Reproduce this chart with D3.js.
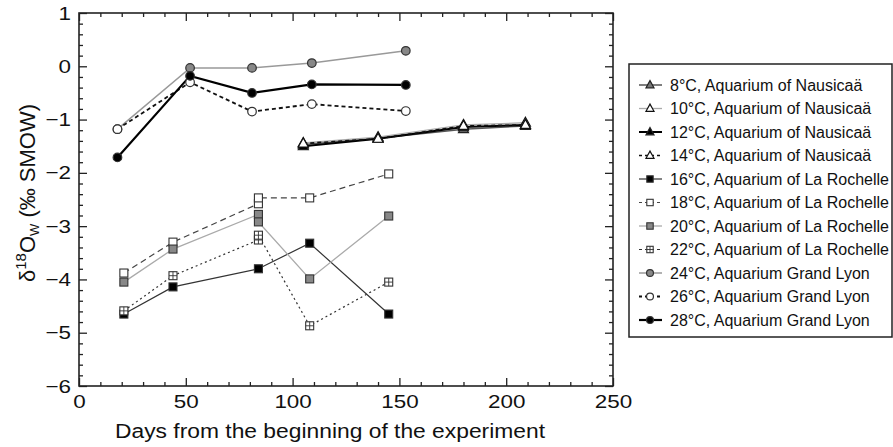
<!DOCTYPE html>
<html>
<head>
<meta charset="utf-8">
<script src="https://d3js.org/d3.v7.min.js"></script>
<style>
body { margin: 0; background: #fff; }
svg { display: block; font-family: "Liberation Sans", Arial, Helvetica, sans-serif; }
</style>
</head>
<body>
<svg width="893" height="447"></svg>
<script>
// ---- data ----
var labels = [
  "8\u00b0C, Aquarium of Nausica\u00e4",
  "10\u00b0C, Aquarium of Nausica\u00e4",
  "12\u00b0C, Aquarium of Nausica\u00e4",
  "14\u00b0C, Aquarium of Nausica\u00e4",
  "16\u00b0C, Aquarium of La Rochelle",
  "18\u00b0C, Aquarium of La Rochelle",
  "20\u00b0C, Aquarium of La Rochelle",
  "22\u00b0C, Aquarium of La Rochelle",
  "24\u00b0C, Aquarium Grand Lyon",
  "26\u00b0C, Aquarium Grand Lyon",
  "28\u00b0C, Aquarium Grand Lyon"
];

var daysNausicaa = [105, 140, 180, 209];
var c8  = [-1.47, -1.35, -1.18, -1.12];
var c10 = [-1.44, -1.33, -1.10, -1.06];
var c12 = [-1.50, -1.36, -1.14, -1.10];
var c14 = [-1.45, -1.36, -1.12, -1.10];

// two samples on day 84 for most La Rochelle tanks
var daysRochelle = [21, 44, 84, 84, 108, 145];
var c16 = [-4.65, -4.14, -3.80, null, -3.32, -4.65];
var c18 = [-3.88, -3.30, -2.58, -2.47, -2.47, -2.02];
var c20 = [-4.05, -3.43, -2.78, -2.92, -3.99, -2.81];
var c22 = [-4.59, -3.93, -3.26, -3.17, -4.87, -4.05];

var daysLyon = [18, 52, 81, 109, 153];
var c24 = [-1.18, -0.03, -0.03, 0.06, 0.29];
var c26 = [-1.18, -0.30, -0.85, -0.71, -0.84];
var c28 = [-1.71, -0.18, -0.50, -0.34, -0.35];

var xTicks = [0, 50, 100, 150, 200, 250];
var yTicks = [-6, -5, -4, -3, -2, -1, 0, 1];

var seriesX = [daysNausicaa, daysNausicaa, daysNausicaa, daysNausicaa,
  daysRochelle, daysRochelle, daysRochelle, daysRochelle,
  daysLyon, daysLyon, daysLyon];
var seriesY = [c8, c10, c12, c14, c16, c18, c20, c22, c24, c26, c28];

// styles: marker shape, marker fill, line colour, width, dash
var styles = [
  {shape: "tri", fill: "#777", stroke: "#555", w: 1.5, dash: null},
  {shape: "tri", fill: "#fff", stroke: "#aaa", w: 1.3, dash: null},
  {shape: "tri", fill: "#000", stroke: "#000", w: 2, dash: null},
  {shape: "tri", fill: "#fff", stroke: "#111", w: 1.6, dash: "4,3"},
  {shape: "sq", fill: "#000", stroke: "#333", w: 1.2, dash: null},
  {shape: "sq", fill: "#fff", stroke: "#444", w: 1.2, dash: "6,4"},
  {shape: "sq", fill: "#888", stroke: "#aaa", w: 1.3, dash: null},
  {shape: "grid", fill: "#fff", stroke: "#333", w: 1.2, dash: "2,3"},
  {shape: "circ", fill: "#888", stroke: "#999", w: 1.5, dash: null},
  {shape: "circ", fill: "#fff", stroke: "#111", w: 1.8, dash: "4,3"},
  {shape: "circ", fill: "#000", stroke: "#000", w: 2.2, dash: null}
];

var svg = d3.select("svg");

var x = d3.scaleLinear().domain([0, 250]).range([79, 613]);
var y = d3.scaleLinear().domain([-6, 1]).range([386, 13]);

var minorX = d3.range(0, 251, 10).filter(function(d) { return d % 50 !== 0; });
var minorY = d3.range(-60, 11, 2).map(function(d) { return d / 10; })
  .filter(function(d) { return Math.abs(d - Math.round(d)) > 1e-6; });

function axisStyle(g) {
  g.select(".domain").remove();
  g.selectAll("line").attr("stroke", "#222").attr("stroke-width", 1.3);
  g.selectAll("text").attr("font-size", "19px").attr("fill", "#111")
    .style("font-family", "\"Liberation Sans\", Arial, sans-serif")
    .each(function() {
      // the reference type is a bit wider than Liberation Sans
      var w = this.getComputedTextLength();
      d3.select(this).attr("textLength", w * 1.18).attr("lengthAdjust", "spacingAndGlyphs");
    });
}

// bottom / top
svg.append("g").attr("transform", "translate(0,386)")
  .call(d3.axisBottom(x).tickValues(xTicks).tickSizeInner(-8).tickSizeOuter(0).tickPadding(9))
  .call(axisStyle);
svg.append("g").attr("transform", "translate(0,386)")
  .call(d3.axisBottom(x).tickValues(minorX).tickSizeInner(-4).tickSizeOuter(0).tickFormat(""))
  .call(axisStyle);
svg.append("g").attr("transform", "translate(0,13)")
  .call(d3.axisTop(x).tickValues(xTicks).tickSizeInner(-8).tickSizeOuter(0).tickFormat(""))
  .call(axisStyle);
svg.append("g").attr("transform", "translate(0,13)")
  .call(d3.axisTop(x).tickValues(minorX).tickSizeInner(-4).tickSizeOuter(0).tickFormat(""))
  .call(axisStyle);

// left / right
svg.append("g").attr("transform", "translate(79,0)")
  .call(d3.axisLeft(y).tickValues(yTicks).tickSizeInner(-8).tickSizeOuter(0).tickPadding(8).tickFormat(d3.format("d")))
  .call(axisStyle);
svg.append("g").attr("transform", "translate(79,0)")
  .call(d3.axisLeft(y).tickValues(minorY).tickSizeInner(-4).tickSizeOuter(0).tickFormat(""))
  .call(axisStyle);
svg.append("g").attr("transform", "translate(613,0)")
  .call(d3.axisRight(y).tickValues(yTicks).tickSizeInner(-8).tickSizeOuter(0).tickFormat(""))
  .call(axisStyle);
svg.append("g").attr("transform", "translate(613,0)")
  .call(d3.axisRight(y).tickValues(minorY).tickSizeInner(-4).tickSizeOuter(0).tickFormat(""))
  .call(axisStyle);

// frame
svg.append("rect")
  .attr("x", x(0)).attr("y", y(1))
  .attr("width", x(250) - x(0)).attr("height", y(-6) - y(1))
  .attr("fill", "none").attr("stroke", "#222").attr("stroke-width", 1.6);

// markers
function marker(g, st, cx, cy, s) {
  s = s || 1;
  var h = 4 * s;
  if (st.shape === "circ") {
    g.append("circle").attr("cx", cx).attr("cy", cy).attr("r", 4.3 * s)
      .attr("fill", st.fill).attr("stroke", "#333").attr("stroke-width", 1.2);
  } else if (st.shape === "sq" || st.shape === "grid") {
    g.append("rect").attr("x", cx - h).attr("y", cy - h).attr("width", 2 * h).attr("height", 2 * h)
      .attr("fill", st.fill).attr("stroke", "#333").attr("stroke-width", 1.1);
    if (st.shape === "grid") {
      g.append("path")
        .attr("d", "M" + cx + "," + (cy - h) + "V" + (cy + h) + "M" + (cx - h) + "," + cy + "H" + (cx + h))
        .attr("stroke", "#333").attr("stroke-width", 0.9);
    }
  } else {
    g.append("path")
      .attr("d", "M" + cx + "," + (cy - 5.5 * s) + "L" + (cx + 5 * s) + "," + (cy + 3.5 * s) +
        "L" + (cx - 5 * s) + "," + (cy + 3.5 * s) + "Z")
      .attr("fill", st.fill).attr("stroke", st.fill === "#fff" ? "#111" : "#222").attr("stroke-width", 1.2);
  }
}

var line = d3.line().x(function(d) { return x(d[0]); }).y(function(d) { return y(d[1]); });

var plot = svg.append("g");
seriesY.forEach(function(vals, i) {
  var pts = vals.map(function(v, j) { return [seriesX[i][j], v]; })
    .filter(function(p) { return p[1] !== null; });
  var st = styles[i];
  plot.append("path").datum(pts)
    .attr("d", line)
    .attr("fill", "none")
    .attr("stroke", st.stroke)
    .attr("stroke-width", st.w)
    .attr("stroke-dasharray", st.dash);
});
seriesY.forEach(function(vals, i) {
  var g = plot.append("g");
  vals.forEach(function(v, j) {
    if (v !== null) marker(g, styles[i], x(seriesX[i][j]), y(v));
  });
});

// axis titles
svg.append("text")
  .attr("x", 330).attr("y", 438)
  .attr("text-anchor", "middle")
  .attr("font-size", "20px").attr("fill", "#111")
  .attr("textLength", 430).attr("lengthAdjust", "spacingAndGlyphs")
  .text("Days from the beginning of the experiment");

var yt = svg.append("text")
  .attr("transform", "translate(35,193) rotate(-90)")
  .attr("text-anchor", "middle")
  .attr("font-size", "22px").attr("fill", "#111");
yt.append("tspan").text("\u03b4");
yt.append("tspan").attr("font-size", "15px").attr("dy", -9).text("18");
yt.append("tspan").attr("dy", 9).text("O");
yt.append("tspan").attr("font-size", "13px").attr("dy", 4).text("W");
yt.append("tspan").attr("dy", -4).text(" (\u2030 SMOW)");

// legend
var lg = svg.append("g");
lg.append("rect")
  .attr("x", 629).attr("y", 64).attr("width", 263).attr("height", 273)
  .attr("fill", "#fff").attr("stroke", "#222").attr("stroke-width", 1.5);

labels.forEach(function(lab, i) {
  var ly = 85 + i * 23.5;
  var st = styles[i];
  lg.append("line")
    .attr("x1", 639).attr("x2", 662).attr("y1", ly).attr("y2", ly)
    .attr("stroke", st.stroke).attr("stroke-width", st.w)
    .attr("stroke-dasharray", st.dash ? "3,3" : null);
  marker(lg, st, 650, ly, 0.8);
  lg.append("text")
    .attr("x", 670).attr("y", ly).attr("dy", "0.36em")
    .attr("font-size", "16px").attr("fill", "#111")
    .text(lab);
});
</script>
</body>
</html>
